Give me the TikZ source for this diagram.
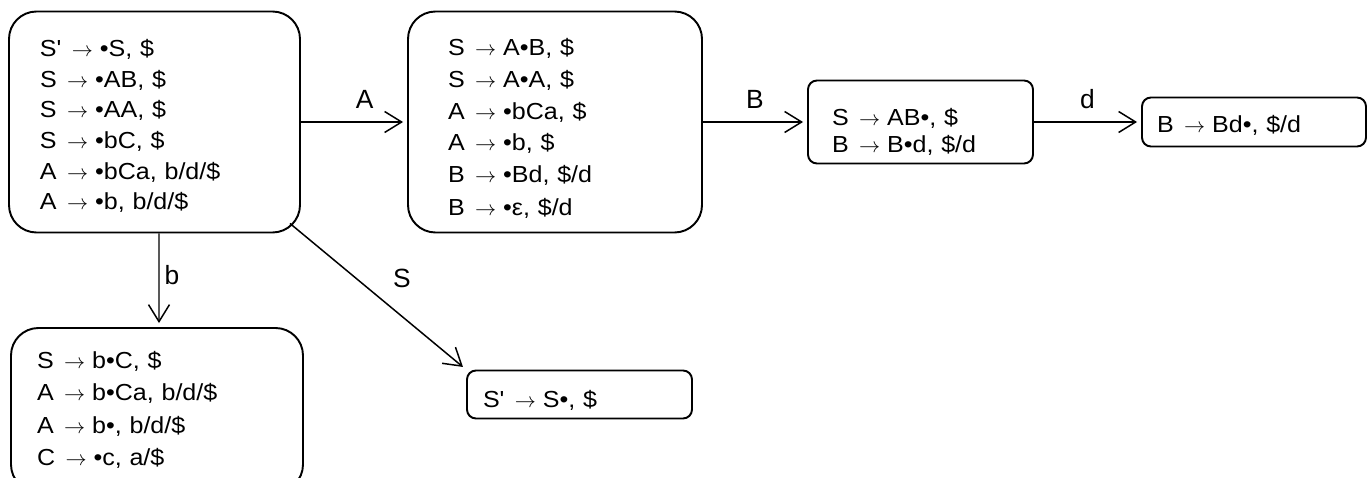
\documentclass[tikz,border=0pt]{standalone}
\usepackage{fontspec}
\setmainfont{Liberation Sans}
\newfontfamily\itemfont{Liberation Sans}[FakeStretch=1.08]
\usetikzlibrary{arrows.meta,calc}
\newcommand{\yields}{\hspace{0.45em}$\rightarrow$\hspace{0.3em}}
\newcommand{\topstrut}[1]{\rule{0pt}{#1}}

\begin{document}
\begin{tikzpicture}[item set/.style={draw, line width=1.1pt, rounded corners=0.55cm, align=left,
                                     inner xsep=0pt, inner ysep=0pt,
                                     font=\itemfont\fontsize{13.2}{17.4}\selectfont},
                    small set/.style={item set, rounded corners=0.18cm},
                    trans/.style={-{Straight Barb[length=0.34cm,width=0.42cm]}, line width=0.85pt,
                                  shorten >=0.08cm},
                    sym/.style={font=\fontsize{15}{18}\selectfont}
]
\useasboundingbox (0,0) rectangle (27.36,-9.56);

% Draw the item sets of the first row
\node [item set, minimum width=5.82cm, minimum height=4.42cm, text width=4.58cm] at (3.09,-2.44) (i0)
  {\topstrut{0.51cm}S'\yields{}•S, \$\\ S\yields{}•AB, \$\\ S\yields{}•AA, \$\\ S\yields{}•bC, \$\\
   A\yields{}•bCa, b/d/\$\\ A\yields{}•b, b/d/\$};
\node [item set, minimum width=5.88cm, minimum height=4.42cm, text width=4.28cm,
       font=\itemfont\fontsize{13.2}{18}\selectfont] at (11.10,-2.44) (i1)
  {\topstrut{0.61cm}S\yields{}A•B, \$\\ S\yields{}A•A, \$\\ A\yields{}•bCa, \$\\ A\yields{}•b, \$\\
   B\yields{}•Bd, \$/d\\[1pt] B\yields{}•ε, \$/d};
\node [small set, minimum width=4.50cm, minimum height=1.66cm, text width=3.54cm,
       font=\itemfont\fontsize{13.2}{15.6}\selectfont] at (18.41,-2.44) (i2)
  {\topstrut{0.73cm}S\yields{}AB•, \$\\ B\yields{}B•d, \$/d};
\node [small set, minimum width=4.48cm, minimum height=0.98cm, text width=3.88cm] at (25.08,-2.44) (i3)
  {\topstrut{0.47cm}B\yields{}Bd•, \$/d};

% Draw the item sets of the second row
\node [item set, minimum width=5.84cm, minimum height=3.28cm, text width=4.80cm,
       font=\itemfont\fontsize{13.2}{18.4}\selectfont] at (3.14,-8.2) (i4)
  {S\yields{}b•C, \$\\ A\yields{}b•Ca, b/d/\$\\ A\yields{}b•, b/d/\$\\ C\yields{}•c, a/\$};
\node [small set, minimum width=4.50cm, minimum height=0.96cm, text width=3.86cm] at (11.59,-7.89) (i5)
  {\topstrut{0.57cm}S'\yields{}S•, \$};

% Draw the transitions
\draw [trans] (i0.east) -- node[sym, pos=0.6, above=0.14cm] {A} (i1.west);
\draw [trans] (i1.east) -- node[sym, above=0.14cm] {B} (i2.west);
\draw [trans] (i2.east) -- node[sym, above=0.14cm] {d} (i3.west);
\draw [trans] ([xshift=0.09cm]i0.south) -- node[sym, pos=0.45, right, inner xsep=0.1cm] {b} ([xshift=0.04cm]i4.north);
\draw [trans] ($(i0.south east)+(-0.22,0.2)$) -- node[sym, pos=0.52, above right=0.1cm] {S} (i5.north west);

\end{tikzpicture}
\end{document}
